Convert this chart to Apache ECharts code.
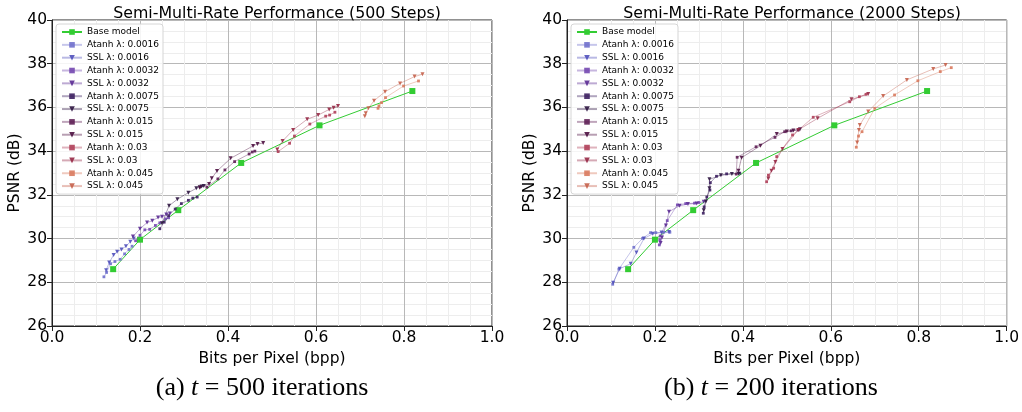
<!DOCTYPE html>
<html><head><meta charset="utf-8">
<script src="https://cdn.jsdelivr.net/npm/echarts@6/dist/echarts.min.js"></script>
<style>html,body{margin:0;padding:0;background:#fff}#c{width:1022px;height:412px}</style>
</head><body><div id="c"></div>
<script>
// ---------- DATA ----------
const seriesNames = ['Base model',
  'Atanh λ: 0.0016','SSL λ: 0.0016','Atanh λ: 0.0032','SSL λ: 0.0032',
  'Atanh λ: 0.0075','SSL λ: 0.0075','Atanh λ: 0.015','SSL λ: 0.015',
  'Atanh λ: 0.03','SSL λ: 0.03','Atanh λ: 0.045','SSL λ: 0.045'];
const panelTitles = ['Semi-Multi-Rate Performance (500 Steps)','Semi-Multi-Rate Performance (2000 Steps)'];
const xTicks = [0.0,0.2,0.4,0.6,0.8,1.0];
const yTicks = [26,28,30,32,34,36,38,40];

// Base model (same in both panels)
const baseModel = [[0.139,28.6],[0.2,29.95],[0.287,31.3],[0.43,33.46],[0.608,35.18],[0.819,36.75]];

// Panel (a): 500 steps
const a_atanh_0016 = [[0.118,28.25],[0.124,28.45],[0.133,28.85],[0.143,28.95],[0.155,29.05],[0.165,29.3],[0.175,29.5],[0.182,29.65]];
const a_ssl_0016   = [[0.123,28.55],[0.13,28.9],[0.14,29.25],[0.148,29.4],[0.158,29.5],[0.168,29.65],[0.178,29.85],[0.186,30.0]];
const a_atanh_0032 = [[0.19,29.9],[0.2,30.15],[0.211,30.4],[0.222,30.42],[0.235,30.6],[0.245,30.72],[0.258,30.9],[0.265,30.95]];
const a_ssl_0032   = [[0.184,30.09],[0.2,30.45],[0.216,30.73],[0.228,30.82],[0.241,30.96],[0.25,31.0],[0.26,31.1],[0.268,31.15]];
const a_atanh_0075 = [[0.245,30.45],[0.255,30.75],[0.265,31.05],[0.28,31.35],[0.294,31.6],[0.31,31.75],[0.32,31.85],[0.33,31.9]];
const a_ssl_0075   = [[0.25,30.7],[0.266,31.5],[0.285,31.8],[0.31,32.1],[0.328,32.3],[0.336,32.35],[0.34,32.38],[0.345,32.4]];
const a_atanh_015  = [[0.352,32.35],[0.377,32.73],[0.393,33.14],[0.415,33.52],[0.448,33.87],[0.455,33.96],[0.461,34.0]];
const a_ssl_015    = [[0.336,32.33],[0.357,32.5],[0.363,32.76],[0.375,33.09],[0.406,33.67],[0.457,34.24],[0.467,34.33],[0.48,34.37]];
const a_atanh_03   = [[0.514,33.98],[0.54,34.36],[0.551,34.69],[0.586,35.24],[0.622,35.6],[0.631,35.65],[0.643,35.78]];
const a_ssl_03     = [[0.512,34.08],[0.524,34.46],[0.548,34.97],[0.58,35.46],[0.605,35.65],[0.63,35.91],[0.64,35.98],[0.65,36.07]];
const a_atanh_045  = [[0.741,35.96],[0.743,36.07],[0.749,36.22],[0.758,36.45],[0.799,36.98],[0.833,37.21]];
const a_ssl_045    = [[0.711,35.6],[0.713,35.73],[0.719,35.96],[0.732,36.31],[0.757,36.72],[0.791,37.1],[0.824,37.41],[0.842,37.52]];

// Panel (b): 2000 steps
const b_atanh_0016 = [[0.104,27.91],[0.118,28.6],[0.152,29.6],[0.172,30.01],[0.19,30.27],[0.202,30.27],[0.22,30.29],[0.234,30.29]];
const b_ssl_0016   = [[0.105,27.98],[0.12,28.62],[0.145,28.85],[0.158,29.36],[0.175,30.0],[0.195,30.22],[0.215,30.28],[0.232,30.3]];
const b_atanh_0032 = [[0.21,29.71],[0.211,29.94],[0.212,30.12],[0.228,30.82],[0.251,31.54],[0.27,31.6],[0.29,31.62],[0.3,31.65]];
const b_ssl_0032   = [[0.213,29.8],[0.216,30.05],[0.225,30.6],[0.232,31.23],[0.256,31.5],[0.275,31.58],[0.295,31.61],[0.311,31.69]];
const b_atanh_0075 = [[0.31,31.16],[0.312,31.45],[0.318,31.9],[0.325,32.22],[0.326,32.56],[0.34,32.85],[0.363,32.96],[0.393,32.99]];
const b_ssl_0075   = [[0.311,31.3],[0.316,31.7],[0.324,32.3],[0.324,32.71],[0.35,32.9],[0.375,32.95],[0.39,32.97]];
const b_atanh_015  = [[0.385,32.95],[0.387,33.72],[0.43,34.2],[0.473,34.63],[0.495,34.89],[0.51,34.93],[0.526,34.97]];
const b_ssl_015    = [[0.39,33.1],[0.397,33.7],[0.44,34.25],[0.477,34.78],[0.5,34.9],[0.515,34.95],[0.53,35.0]];
const b_atanh_03   = [[0.454,32.6],[0.458,32.9],[0.47,33.22],[0.477,33.75],[0.513,34.74],[0.56,35.55],[0.643,36.26],[0.665,36.49],[0.68,36.6]];
const b_ssl_03     = [[0.458,32.75],[0.465,33.1],[0.474,33.5],[0.49,34.1],[0.526,34.97],[0.57,35.5],[0.647,36.37],[0.685,36.61]];
const b_atanh_045  = [[0.658,34.18],[0.663,34.69],[0.671,34.89],[0.7,35.96],[0.745,36.57],[0.798,37.22],[0.849,37.64],[0.874,37.82]];
const b_ssl_045    = [[0.66,34.4],[0.664,34.97],[0.666,35.2],[0.685,35.81],[0.719,36.52],[0.773,37.26],[0.833,37.76],[0.861,37.94]];

const panelData = [
  [baseModel,a_atanh_0016,a_ssl_0016,a_atanh_0032,a_ssl_0032,a_atanh_0075,a_ssl_0075,a_atanh_015,a_ssl_015,a_atanh_03,a_ssl_03,a_atanh_045,a_ssl_045],
  [baseModel,b_atanh_0016,b_ssl_0016,b_atanh_0032,b_ssl_0032,b_atanh_0075,b_ssl_0075,b_atanh_015,b_ssl_015,b_atanh_03,b_ssl_03,b_atanh_045,b_ssl_045]
];

// ---------- STYLE ----------
const colors = ['#33cc33',
  '#7070cc','#5050bb','#7448b0','#5a2a92',
  '#3d2060','#2e1540','#5e1f55','#4d1040',
  '#b0405a','#962845','#d97a5e','#c5604a'];

const FONT = 'DejaVu Sans';
const gridLeft = [52, 567];
const gridW = 440, gridTop = 20, gridH = 306;

const grids = [], xAxes = [], yAxes = [], series = [], legends = [], titles = [];
for (let p = 0; p < 2; p++) {
  grids.push({left: gridLeft[p], top: gridTop, width: gridW, height: gridH,
    show: true, borderColor: '#222', borderWidth: 1, backgroundColor: 'transparent'});
  const common = {
    gridIndex: p, type: 'value',
    axisLine: {show: true, onZero: false, lineStyle: {color: '#222', width: 1}},
    axisTick: {show: true, inside: false, length: 5, lineStyle: {color: '#222'}},
    splitLine: {show: true, lineStyle: {color: '#b8b8b8', width: 1}},
    minorTick: {show: false, splitNumber: 4},
    minorSplitLine: {show: true, lineStyle: {color: '#ededed', width: 1}},
    nameTextStyle: {fontFamily: FONT, fontSize: 15.5, color: '#000'},
  };
  xAxes.push(Object.assign({}, common, {
    min: xTicks[0], max: xTicks[xTicks.length-1], interval: 0.2,
    name: 'Bits per Pixel (bpp)', nameLocation: 'middle', nameGap: 22,
    axisLabel: {formatter: v => v.toFixed(1), fontFamily: FONT, fontSize: 15.5, color: '#000', margin: 4}
  }));
  yAxes.push(Object.assign({}, common, {
    min: yTicks[0], max: yTicks[yTicks.length-1], interval: 2,
    name: 'PSNR (dB)', nameLocation: 'middle', nameGap: 24,
    axisLabel: {fontFamily: FONT, fontSize: 15.5, color: '#000', margin: 5}
  }));
  titles.push({text: panelTitles[p], left: gridLeft[p] + gridW/2, top: 1, textAlign: 'center',
    textStyle: {fontFamily: FONT, fontSize: 15.8, fontWeight: 'normal', color: '#000'}});
  legends.push({
    data: seriesNames, orient: 'vertical', left: gridLeft[p] + 4, top: 24,
    itemWidth: 20, itemHeight: 7, itemGap: 2.84,
    textStyle: {fontFamily: FONT, fontSize: 9, color: '#000', lineHeight: 10},
    padding: [3, 4, 3, 5], backgroundColor: 'rgba(255,255,255,0.85)',
    borderColor: '#d6d6d6', borderWidth: 1, borderRadius: 3, selectedMode: false
  });
  panelData[p].forEach((d, i) => {
    const isBase = i === 0, isSSL = i > 0 && i % 2 === 0;
    series.push({
      name: seriesNames[i], type: 'line', xAxisIndex: p, yAxisIndex: p, data: d,
      symbol: isBase ? 'rect' : (isSSL ? 'triangle' : 'rect'),
      symbolRotate: isSSL ? 180 : 0,
      symbolSize: isBase ? 6 : (isSSL ? 4 : 2.8),
      showSymbol: true,
      itemStyle: {color: colors[i], opacity: isBase ? 1 : 0.9},
      lineStyle: {color: colors[i], width: 1, opacity: isBase ? 1 : 0.4},
      emphasis: {disabled: true}, silent: true, z: isBase ? 2 : 3
    });
  });
}
const captions = [
  {t: 'a', num: '500', x: 257},
  {t: 'b', num: '200', x: 766}
];
captions.forEach(c => {
  titles.push({
    text: '{n|(' + c.t + ') }{i|t}{n| = ' + c.num + ' iterations}',
    left: c.x, top: 370, textAlign: 'center',
    textStyle: {fontWeight: 'normal', rich: {
      n: {fontFamily: 'Liberation Serif', fontWeight: 'normal', fontSize: 26, color: '#000'},
      i: {fontFamily: 'Liberation Serif', fontWeight: 'normal', fontStyle: 'italic', fontSize: 26, color: '#000'}
    }}
  });
});

const chart = echarts.init(document.getElementById('c'), null, {renderer: 'canvas'});
chart.setOption({
  animation: false, backgroundColor: '#fff',
  title: titles, legend: legends, grid: grids, xAxis: xAxes, yAxis: yAxes, series: series
});
</script></body></html>
